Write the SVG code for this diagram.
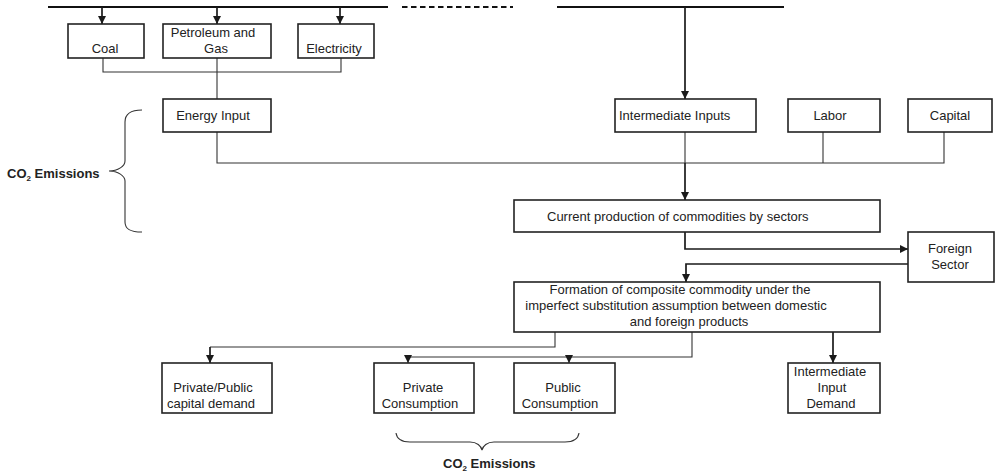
<svg xmlns="http://www.w3.org/2000/svg" width="996" height="474" viewBox="0 0 996 474">
<defs>
<marker id="ah" markerUnits="userSpaceOnUse" markerWidth="9" markerHeight="9" refX="8" refY="4" orient="auto">
<path d="M0,0 L8,4 L0,8 z" fill="#1a1a1a"/>
</marker>
<style>
.box{fill:#fff;stroke:#222;stroke-width:1.6}
.t{font-family:"Liberation Sans",Arial,sans-serif;font-size:13px;fill:#222}
.m{text-anchor:middle}
.b{font-family:"Liberation Sans",Arial,sans-serif;font-size:13px;font-weight:bold;fill:#222}
.thin{fill:none;stroke:#333;stroke-width:1.1}
.thick{fill:none;stroke:#1a1a1a;stroke-width:1.7}
.bar{fill:none;stroke:#111;stroke-width:2.2}
</style>
</defs>
<rect width="996" height="474" fill="#fff"/>
<g id="connectors">
<path class="bar" d="M48 7 H388"/>
<path class="bar" d="M402 7 H513" stroke-dasharray="5.5 3.5"/>
<path class="bar" d="M557 7 H784"/>
<path class="thick" d="M102 7 V24" marker-end="url(#ah)"/>
<path class="thick" d="M217 7 V24" marker-end="url(#ah)"/>
<path class="thick" d="M340 7 V24" marker-end="url(#ah)"/>
<path class="thin" d="M103 58 V72 H341 V58"/>
<path class="thin" d="M217 58 V99"/>
<path class="thick" d="M685 7 V99" marker-end="url(#ah)"/>
<path class="thin" d="M217 132 V163 H944 V132"/>
<path class="thin" d="M823 132 V163"/>
<path class="thin" d="M685 132 V163"/>
<path class="thick" d="M685 163 V200" marker-end="url(#ah)"/>
<path class="thick" d="M685 232 V249 H908" marker-end="url(#ah)"/>
<path class="thick" d="M908 264 H686 V282" marker-end="url(#ah)"/>
<path class="thin" d="M555 332 V347 H210"/>
<path class="thick" d="M210 347 V363" marker-end="url(#ah)"/>
<path class="thin" d="M692 332 V357 H408"/>
<path class="thin" d="M408 357 V363" marker-end="url(#ah)"/>
<path class="thin" d="M569 357 V363" marker-end="url(#ah)"/>
<path class="thick" d="M833 332 V363" marker-end="url(#ah)"/>
</g>
<g id="coal"><rect class="box" x="68" y="24" width="76" height="34"/><text class="t m" x="105" y="53">Coal</text></g>
<g id="petroleum"><rect class="box" x="163" y="24" width="108" height="34"/><text class="t m" x="213" y="37">Petroleum and</text><text class="t m" x="216" y="53">Gas</text></g>
<g id="electricity"><rect class="box" x="298" y="24" width="76" height="34"/><text class="t m" x="334" y="53">Electricity</text></g>
<g id="energy-input"><rect class="box" x="163" y="99" width="108" height="33"/><text class="t m" x="213" y="120">Energy Input</text></g>
<g id="intermediate-inputs"><rect class="box" x="615" y="99" width="141" height="33"/><text class="t" x="619" y="120">Intermediate Inputs</text></g>
<g id="labor"><rect class="box" x="788" y="99" width="92" height="33"/><text class="t m" x="830" y="120">Labor</text></g>
<g id="capital"><rect class="box" x="908" y="99" width="84" height="33"/><text class="t m" x="950" y="120">Capital</text></g>
<g id="current-production"><rect class="box" x="514" y="200" width="366" height="32"/><text class="t" x="547" y="221">Current production of commodities by sectors</text></g>
<g id="foreign-sector"><rect class="box" x="908" y="232" width="86" height="50"/><text class="t m" x="950" y="253">Foreign</text><text class="t m" x="950" y="269">Sector</text></g>
<g id="composite"><rect class="box" x="514" y="282" width="366" height="50"/><text class="t m" x="680" y="294">Formation of composite commodity under the</text><text class="t m" x="676" y="310">imperfect substitution assumption between domestic</text><text class="t m" x="689" y="326">and foreign products</text></g>
<g id="capital-demand"><rect class="box" x="162" y="363" width="110" height="50"/><text class="t m" x="213" y="392">Private/Public</text><text class="t m" x="211" y="408">capital demand</text></g>
<g id="private-consumption"><rect class="box" x="374" y="363" width="100" height="50"/><text class="t m" x="423" y="392">Private</text><text class="t m" x="420" y="408">Consumption</text></g>
<g id="public-consumption"><rect class="box" x="514" y="363" width="101" height="50"/><text class="t m" x="563" y="392">Public</text><text class="t m" x="560" y="408">Consumption</text></g>
<g id="intermediate-demand"><rect class="box" x="788" y="363" width="92" height="50"/><text class="t m" x="830" y="376">Intermediate</text><text class="t m" x="832" y="392">Input</text><text class="t m" x="831" y="408">Demand</text></g>
<g id="co2-left"><path class="thin" d="M142 110 C130 110 125 114 125 122 V161 C125 166 118 171 109 171 C118 171 125 176 125 181 V222 C125 229 130 232 142 232"/><text class="b" x="7" y="178">CO<tspan font-size="8" dy="3">2</tspan><tspan dy="-3"> Emissions</tspan></text></g>
<g id="co2-bottom"><path class="thin" d="M396 433 C397 440 402 442 410 442 H470 C477 442 481 446 482 450 C483 446 487 442 494 442 H565 C573 442 578 440 579 433"/><text class="b" x="443" y="468">CO<tspan font-size="8" dy="3">2</tspan><tspan dy="-3"> Emissions</tspan></text></g>
</svg>
